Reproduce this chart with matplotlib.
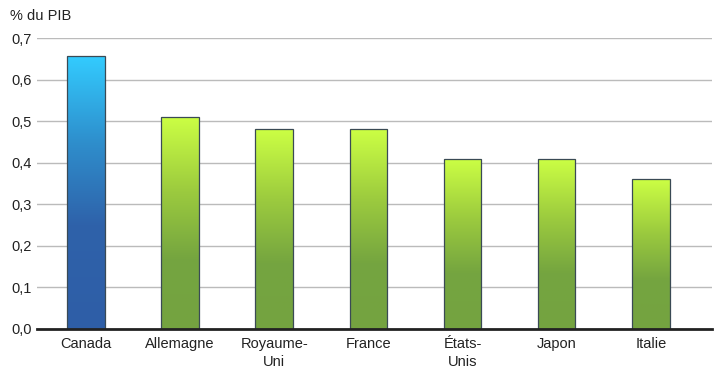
import numpy as np
import matplotlib.pyplot as plt
from matplotlib.colors import LinearSegmentedColormap
from matplotlib.patches import Rectangle

plt.rcParams['font.family'] = ['Liberation Sans', 'DejaVu Sans']

countries = ['Canada', 'Allemagne', 'Royaume-\nUni', 'France', 'États-\nUnis', 'Japon', 'Italie']
values = [0.657, 0.51, 0.48, 0.48, 0.41, 0.41, 0.36]
yticks = [0.0, 0.1, 0.2, 0.3, 0.4, 0.5, 0.6, 0.7]
ytick_labels = ['0,0', '0,1', '0,2', '0,3', '0,4', '0,5', '0,6', '0,7']

# bottom part stays dark, then fades up to the light top
blue_cmap = LinearSegmentedColormap.from_list(
    'blue', [(0, '#2E5EA7'), (0.38, '#2F62AA'), (0.68, '#2E8ECC'), (1, '#33CCFF')])
green_cmap = LinearSegmentedColormap.from_list(
    'green', [(0, '#74A340'), (0.33, '#75A540'), (0.65, '#9CCB3E'), (1, '#CCFF44')])

fig = plt.figure(figsize=(7.2, 3.78), dpi=100)
ax = fig.add_axes([37 / 720, 1 - 329 / 378, 675 / 720, 291 / 378])

width = 0.40
grad = np.linspace(0, 1, 256).reshape(-1, 1)
for i, v in enumerate(values):
    cmap = blue_cmap if i == 0 else green_cmap
    x0 = i - width / 2
    im = ax.imshow(grad, cmap=cmap, aspect='auto', origin='lower',
                   extent=[x0, x0 + width, 0, v], zorder=3)
    rect = Rectangle((x0, 0), width, v, facecolor='none',
                     edgecolor='#3a4a55', linewidth=0.9, zorder=4)
    ax.add_patch(rect)
    im.set_clip_path(rect)

ax.set_xlim(-0.52, 6.65)
ax.set_ylim(0, 0.7)
ax.set_yticks(yticks)
ax.set_yticklabels(ytick_labels, fontsize=10.5, color='#222222')
ax.set_xticks(range(len(countries)))
ax.set_xticklabels(countries, fontsize=10.5, color='#222222', linespacing=1.3)
ax.tick_params(axis='both', length=0)
ax.tick_params(axis='x', pad=6)
ax.tick_params(axis='y', pad=4)

ax.grid(axis='y', color='#BBBBBB', linewidth=1, zorder=0)
for s in ['left', 'right', 'top']:
    ax.spines[s].set_visible(False)
ax.spines['bottom'].set_color('#222222')
ax.spines['bottom'].set_linewidth(2)
ax.spines['bottom'].set_zorder(5)

fig.text(10 / 720, 1 - 16 / 378, '% du PIB', fontsize=10.5, color='#222222', va='center', ha='left')

fig.savefig('out.png', dpi=100)
